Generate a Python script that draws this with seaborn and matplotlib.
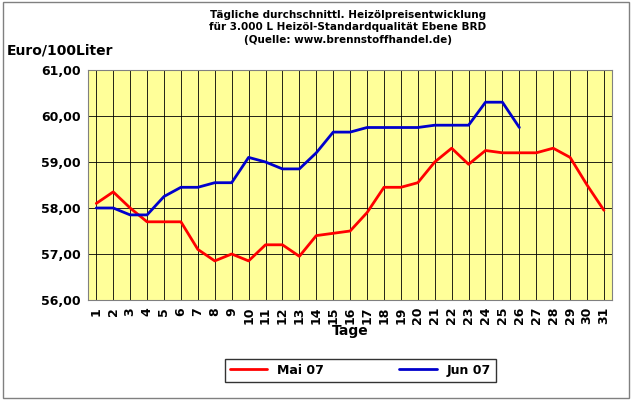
import matplotlib
matplotlib.use("Agg")
import matplotlib.pyplot as plt
import seaborn as sns
import pandas as pd

mai = [58.1,58.35,58.0,57.7,57.7,57.7,57.1,56.85,57.0,56.85,57.2,57.2,56.95,57.4,57.45,57.5,57.9,58.45,58.45,58.55,59.0,59.3,58.95,59.25,59.2,59.2,59.2,59.3,59.1,58.5,57.95]
jun = [58.0,58.0,57.85,57.85,58.25,58.45,58.45,58.55,58.55,59.1,59.0,58.85,58.85,59.2,59.65,59.65,59.75,59.75,59.75,59.75,59.8,59.8,59.8,60.3,60.3,59.75]
labels = ["Mai 07", "Jun 07"]

df = pd.concat([
    pd.DataFrame({"Tag": range(1, len(mai)+1), "Preis": mai, "Monat": labels[0]}),
    pd.DataFrame({"Tag": range(1, len(jun)+1), "Preis": jun, "Monat": labels[1]}),
])

sns.set_style("white")
plt.rcParams['font.family'] = ['DejaVu Sans']
plt.rcParams['text.color'] = 'black'
plt.rcParams['axes.labelcolor'] = 'black'
plt.rcParams['xtick.color'] = 'black'
plt.rcParams['ytick.color'] = 'black'
fig = plt.figure(figsize=(6.32, 4.0), dpi=100)
fig.patch.set_facecolor("white")
ax = fig.add_axes([0.139, 0.25, 0.83, 0.575])
ax.set_facecolor("#FFFF99")
sns.lineplot(data=df, x="Tag", y="Preis", hue="Monat", palette=["#FF0000", "#0000CC"],
             linewidth=2, ax=ax, legend=False)
ax.set_xlim(0.5, 31.5)
ax.set_ylim(56, 61)
ax.set_xticks(range(1, 32))
ax.set_xticklabels([str(i) for i in range(1, 32)], rotation=90, fontsize=9, fontweight="bold")
ax.set_yticks([56, 57, 58, 59, 60, 61])
ax.set_yticklabels([f"{v:.2f}".replace(".", ",") for v in range(56, 62)], fontsize=9, fontweight="bold")
ax.grid(True, color="black", linewidth=0.6)
for s in ax.spines.values():
    s.set_color("#808080")
ax.tick_params(length=3, pad=2)
ax.set_xlabel("Tage", fontsize=10, fontweight="bold", labelpad=0)
ax.set_ylabel("")
fig.text(0.01, 0.865, "Euro/100Liter", fontsize=10, fontweight="bold")
fig.text(0.55, 0.975, "Tägliche durchschnittl. Heizölpreisentwicklung\nfür 3.000 L Heizöl-Standardqualität Ebene BRD\n(Quelle: www.brennstoffhandel.de)",
         ha="center", va="top", fontsize=7.5, fontweight="bold", linespacing=1.3)
from matplotlib.lines import Line2D
h = [Line2D([], [], color="#FF0000", lw=2), Line2D([], [], color="#0000CC", lw=2)]
leg = fig.legend(h, labels, loc="lower center", bbox_to_anchor=(0.57, 0.03), ncol=2,
                 fancybox=False, edgecolor="black", prop={"weight": "bold", "size": 9},
                 handlelength=3, columnspacing=6)
fig.add_artist(plt.Rectangle((0.005, 0.005), 0.99, 0.99, transform=fig.transFigure,
                             fill=False, edgecolor="#808080", lw=1))
fig.savefig("out.png", dpi=100)
